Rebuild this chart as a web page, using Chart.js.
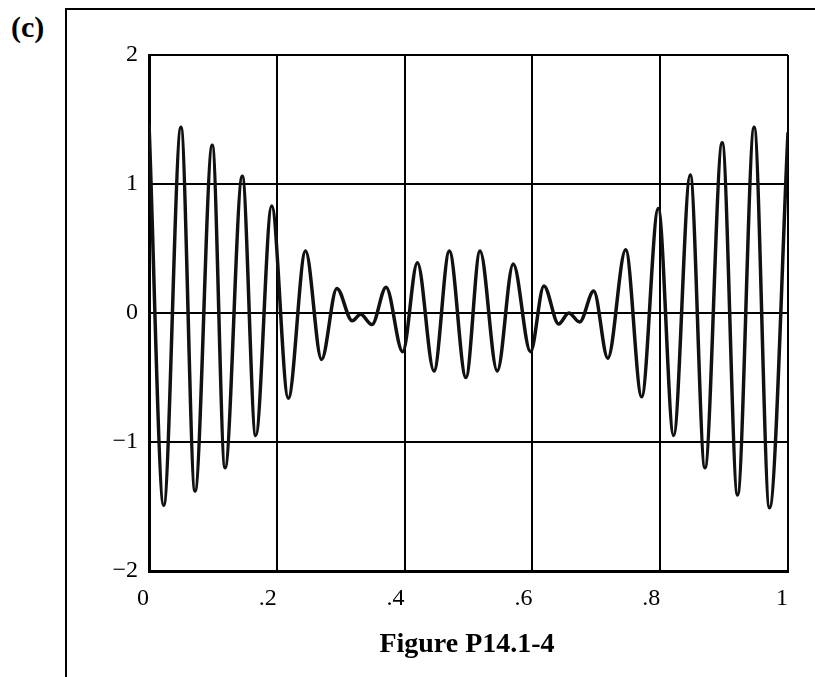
<!DOCTYPE html>
<html>
<head>
<meta charset="utf-8">
<script src="https://cdn.jsdelivr.net/npm/chart.js@4.4.1/dist/chart.umd.min.js"></script>
<style>
  html, body { margin: 0; padding: 0; background: #fff; }
  #wrap { position: relative; width: 815px; height: 677px; overflow: hidden; }
  #frame {
    position: absolute; left: 65px; top: 8px; width: 760px; height: 680px;
    border-left: 2px solid #000; border-top: 2px solid #000;
  }
  #panel {
    position: absolute; left: 11px; top: 10px; line-height: 30px;
    font: bold 30px "Liberation Serif", "DejaVu Serif", serif; color: #000;
  }
  #caption {
    position: absolute; left: 317px; top: 629px; width: 300px; text-align: center;
    font: bold 28px/28px "Liberation Serif", "DejaVu Serif", serif; color: #000;
  }
  canvas { position: absolute; left: 0; top: 0; }
</style>
</head>
<body>
<div id="wrap">
  <div id="frame"></div>
  <div id="panel">(c)</div>
  <canvas id="chartSignal" width="815" height="677"></canvas>
  <div id="caption">Figure P14.1-4</div>
</div>
<script>
// signal extrema (x = time, y = amplitude)
const sigX = [
  0.000, 0.023, 0.050, 0.072, 0.099, 0.119, 0.146, 0.167, 0.192, 0.218,
  0.245, 0.270, 0.294, 0.318, 0.331, 0.349, 0.371, 0.397, 0.420, 0.446,
  0.470, 0.496, 0.518, 0.545, 0.570, 0.597, 0.618, 0.641, 0.657, 0.674,
  0.696, 0.718, 0.746, 0.771, 0.797, 0.821, 0.847, 0.870, 0.897, 0.921,
  0.947, 0.971, 1.000
];
const sigY = [
  1.47, -1.49, 1.44, -1.38, 1.30, -1.20, 1.06, -0.95, 0.83, -0.66,
  0.48, -0.36, 0.19, -0.06, -0.01, -0.09, 0.20, -0.30, 0.39, -0.45,
  0.48, -0.50, 0.48, -0.45, 0.38, -0.30, 0.21, -0.085, 0.00, -0.07,
  0.17, -0.35, 0.49, -0.65, 0.81, -0.95, 1.07, -1.20, 1.32, -1.41,
  1.44, -1.51, 1.40
];

const xTicks = [0, 0.2, 0.4, 0.6, 0.8, 1];
const xTickLabels = ['0', '.2', '.4', '.6', '.8', '1'];
const yTicks = [-2, -1, 0, 1, 2];
const yTickLabels = ['\u22122', '\u22121', '0', '1', '2'];

const INK = '#000';
const SERIF = '"Liberation Serif", "DejaVu Serif", serif';

const points = sigX.map((x, i) => ({ x, y: sigY[i] }));

new Chart(document.getElementById('chartSignal').getContext('2d'), {
  type: 'line',
  data: {
    datasets: [{
      data: points,
      borderColor: '#111',
      borderWidth: 3.5,
      pointRadius: 0,
      fill: false,
      cubicInterpolationMode: 'monotone',
    }]
  },
  options: {
    responsive: false,
    devicePixelRatio: 1,
    animation: false,
    events: [],
    layout: { padding: { left: 0, right: 27, top: 55, bottom: 0 } },
    plugins: {
      legend: { display: false },
      tooltip: { enabled: false },
    },
    scales: {
      x: {
        type: 'linear',
        min: 0,
        max: 1,
        afterBuildTicks: s => { s.ticks = xTicks.map(v => ({ value: v })); },
        afterFit: s => { s.height = 106; },
        grid: { color: INK, lineWidth: 2, drawTicks: false },
        border: { color: INK, width: 3 },
        ticks: {
          color: INK,
          font: { family: SERIF, size: 24 },
          padding: 13,
          align: 'end',
          maxRotation: 0,
          callback: (v, i) => xTickLabels[i],
        }
      },
      y: {
        type: 'linear',
        min: -2,
        max: 2,
        afterBuildTicks: s => { s.ticks = yTicks.map(v => ({ value: v })); },
        afterFit: s => { s.width = 149; },
        grid: { color: INK, lineWidth: 2, drawTicks: false },
        border: { color: INK, width: 3 },
        ticks: {
          color: INK,
          font: { family: SERIF, size: 24 },
          padding: 11,
          callback: (v, i) => yTickLabels[i],
        }
      }
    }
  }
});
</script>
</body>
</html>
